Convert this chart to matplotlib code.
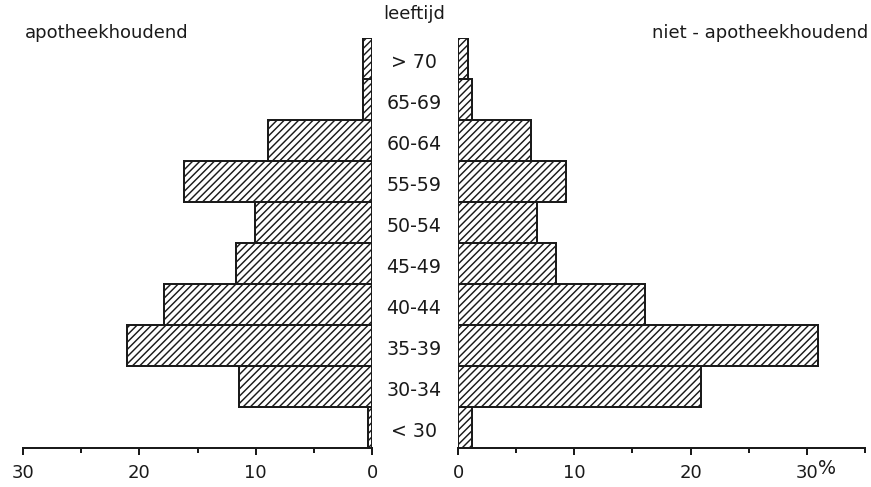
import numpy as np
import matplotlib
matplotlib.use("Agg")
import matplotlib.pyplot as plt
from matplotlib.ticker import FixedLocator
from matplotlib.transforms import blended_transform_factory

# age groups, bottom to top
age_groups = ["< 30", "30-34", "35-39", "40-44", "45-49",
              "50-54", "55-59", "60-64", "65-69", "> 70"]

# percentages per age group
apotheekhoudend = [0.35, 11.4, 21.1, 17.9, 11.7, 10.1, 16.2, 8.9, 0.8, 0.8]
niet_apotheekhoudend = [1.2, 20.9, 31.0, 16.1, 8.4, 6.8, 9.3, 6.3, 1.2, 0.85]

DPI = 130
W, H = 871, 487
INK = "#1a1a1a"

plt.rcParams["hatch.linewidth"] = 0.8
plt.rcParams["hatch.color"] = INK
plt.rcParams["font.family"] = "DejaVu Sans"

fig = plt.figure(figsize=(W / DPI, H / DPI), dpi=DPI)
fig.patch.set_facecolor("white")

axL = fig.add_axes([23 / W, 39 / H, (372 - 23) / W, 410 / H])
axR = fig.add_axes([458 / W, 39 / H, (865 - 458) / W, 410 / H])

y = np.arange(len(age_groups))

for ax, vals in ((axL, apotheekhoudend), (axR, niet_apotheekhoudend)):
    ax.barh(y, vals, height=1.0, align="edge", color="white",
            edgecolor=INK, linewidth=1.1, hatch="//////")
    ax.set_ylim(0, len(age_groups))
    for s in ("top", "left", "right"):
        ax.spines[s].set_visible(False)
    ax.spines["bottom"].set_linewidth(1.1)
    ax.spines["bottom"].set_color(INK)
    ax.set_yticks([])
    ax.tick_params(axis="x", which="major", direction="out", length=4,
                   width=1.1, color=INK, pad=5, labelsize=10, labelcolor=INK)
    ax.tick_params(axis="x", which="minor", direction="out", length=3,
                   width=1.1, color=INK)
    ax.set_facecolor("none")

axL.set_xlim(30, 0)
axL.xaxis.set_major_locator(FixedLocator([0, 10, 20, 30]))
axL.xaxis.set_minor_locator(FixedLocator([5, 15, 25]))

axR.set_xlim(0, 35)
axR.xaxis.set_major_locator(FixedLocator([0, 10, 20, 30]))
axR.xaxis.set_minor_locator(FixedLocator([5, 15, 25, 35]))

# age labels in the gap between the halves
tr = blended_transform_factory(fig.transFigure, axL.transData)
for i, lab in enumerate(age_groups):
    fig.text(414 / W, i + 0.5 - 0.09, lab, transform=tr, ha="center",
             va="center", fontsize=10.5, color=INK)

fig.text(414 / W, 1 - 14 / H, "leeftijd", ha="center", va="center",
         fontsize=10, color=INK)
fig.text(25 / W, 1 - 33 / H, "apotheekhoudend", ha="left", va="center",
         fontsize=10, color=INK)
fig.text(868 / W, 1 - 33 / H, "niet - apotheekhoudend", ha="right",
         va="center", fontsize=10, color=INK)
fig.text(827 / W, 1 - 468 / H, "%", ha="center", va="center",
         fontsize=10.5, color=INK)

fig.savefig("out.png", dpi=DPI, facecolor="white")
